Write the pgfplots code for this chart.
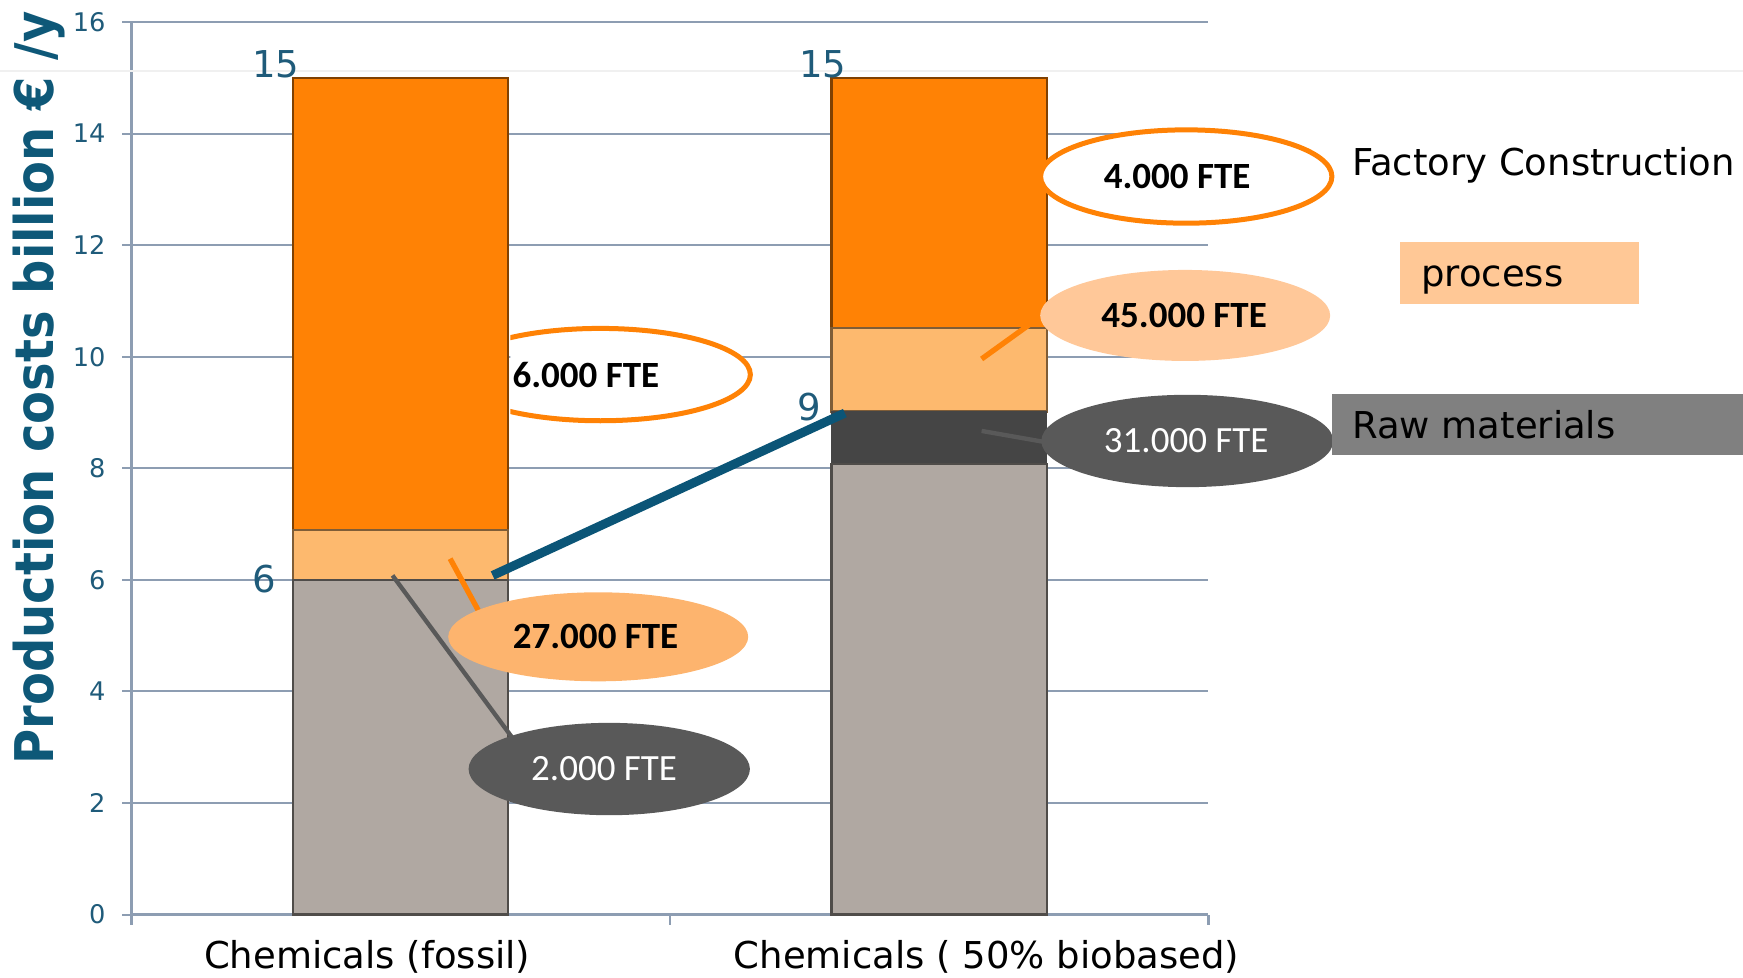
\documentclass[border=0pt]{standalone}
\usepackage{fontspec}
\setmainfont{DejaVu Sans}
\newfontfamily\calibri{Carlito}
\newfontfamily\ylabfont{DejaVu Sans}[BoldFeatures={FakeStretch=0.90}]
\usepackage{pgfplots}
\pgfplotsset{compat=1.18}
\definecolor{gridc}{HTML}{8D9DB2}
\definecolor{tealc}{HTML}{1F5B7A}
\definecolor{ylabc}{HTML}{0E5878}
\definecolor{bluec}{HTML}{0B5577}
\definecolor{rawc}{HTML}{B0A8A2}
\definecolor{darkc}{HTML}{454545}
\definecolor{procc}{HTML}{FDB96E}
\definecolor{constc}{HTML}{FF8205}
\definecolor{ell27}{HTML}{FDB46E}
\definecolor{ell45}{HTML}{FFC899}
\definecolor{ellgray}{HTML}{595959}
\definecolor{processbox}{HTML}{FFC896}
\definecolor{rawbox}{HTML}{808080}
\begin{document}
\begin{tikzpicture}
\begin{axis}[
  at={(0,0)}, anchor=south west, scale only axis,
  width=323.1pt, height=267.8pt,
  xmin=-0.5, xmax=1.5, ymin=0, ymax=16,
  ybar stacked, bar width=0.4,
  clip=false,
  axis x line*=bottom, axis y line*=left,
  x axis line style={-}, y axis line style={-},
  axis line style={gridc, line width=0.8pt},
  ymajorgrids, grid style={gridc, line width=0.6pt},
  ytick={0,2,...,16},
  xtick={-0.062,1.088},
  xticklabels={Chemicals (fossil), Chemicals ( 50\% biobased)},
  major x tick style={draw=none},
  minor xtick={-0.5,0.5,1.5},
  minor x tick style={gridc, line width=0.8pt},
  ytick style={gridc, line width=0.6pt},
  tick align=outside,
  major tick length=2.7pt, minor tick length=3pt,
  /pgf/number format/assume math mode=true,
  yticklabel style={font=\fontsize{7.7}{9}\selectfont, text=tealc, xshift=-1.5pt},
  xticklabel style={font=\fontsize{11.1}{13}\selectfont, text=black, anchor=base, yshift=-13.4pt},
  ylabel={Production costs billion € /y},
  ylabel style={at={(axis description cs:-0.086,0.590)}, anchor=center, rotate=0, inner sep=0pt,
    font=\ylabfont\bfseries\fontsize{16}{18}\selectfont, text=ylabc},
]
\addplot[fill=rawc, draw=rawc!45!black, line width=0.7pt] coordinates {(0,6) (1,8.08)};
\addplot[fill=darkc, draw=none] coordinates {(0,0) (1,0.94)};
\addplot[fill=procc, draw=procc!50!black, line width=0.7pt] coordinates {(0,0.9) (1,1.49)};
\addplot[fill=constc, draw=constc!50!black, line width=0.7pt] coordinates {(0,8.1) (1,4.49)};

% anchor points for the annotations (data coordinates)
\coordinate (e6) at (axis cs:0.371,9.68);
\coordinate (t6) at (axis cs:0.344,9.68);
\coordinate (clipA) at (axis cs:0.204,8.5);
\coordinate (clipB) at (axis cs:0.9,11);
\coordinate (e27) at (axis cs:0.367,4.98);
\coordinate (t27) at (axis cs:0.362,4.98);
\coordinate (e2) at (axis cs:0.3875,2.61);
\coordinate (t2) at (axis cs:0.378,2.61);
\coordinate (e4) at (axis cs:1.459,13.23);
\coordinate (t4) at (axis cs:1.442,13.23);
\coordinate (e45) at (axis cs:1.457,10.74);
\coordinate (t45) at (axis cs:1.455,10.74);
\coordinate (e31) at (axis cs:1.461,8.49);
\coordinate (t31) at (axis cs:1.459,8.49);
\coordinate (bl1) at (axis cs:0.171,6.08);
\coordinate (bl2) at (axis cs:0.825,8.99);
\coordinate (co1) at (axis cs:0.092,6.38);
\coordinate (co2) at (axis cs:0.171,4.98);
\coordinate (cg1) at (axis cs:-0.015,6.08);
\coordinate (cg2) at (axis cs:0.206,3.19);
\coordinate (co3) at (axis cs:1.079,9.96);
\coordinate (co4) at (axis cs:1.197,10.78);
\coordinate (cg3) at (axis cs:1.079,8.67);
\coordinate (cg4) at (axis cs:1.197,8.47);
\coordinate (l15a) at (axis cs:-0.232,15.0);
\coordinate (l15b) at (axis cs:0.784,15.0);
\coordinate (l6) at (axis cs:-0.254,6.02);
\coordinate (l9) at (axis cs:0.759,9.1);
\coordinate (fc) at (axis cs:1.766,13.43);
\coordinate (pbA) at (axis cs:1.855,10.94);
\coordinate (pbB) at (axis cs:2.299,12.05);
\coordinate (pt) at (axis cs:1.894,11.38);
\coordinate (rbA) at (axis cs:1.729,8.23);
\coordinate (rbB) at (axis cs:2.493,9.34);
\coordinate (rt) at (axis cs:1.766,8.79);
\coordinate (slA) at (axis cs:-0.7435,15.12);
\coordinate (slB) at (axis cs:2.493,15.12);
\end{axis}

% faint slide line
\draw[black!6, line width=0.4pt] (slA) -- (slB);
% 6.000 ellipse sits behind the fossil bar: show only the part right of the bar
\begin{scope}
\clip (clipA) rectangle (clipB);
\draw[constc, line width=1.5pt, fill=white] (e6) ellipse [x radius=45pt, y radius=13.85pt];
\end{scope}
% blue connecting line
\draw[bluec, line width=2.7pt] (bl1) -- (bl2);
% connectors
\draw[constc, line width=1.6pt] (co1) -- (co2);
\draw[ellgray, line width=1.3pt] (cg1) -- (cg2);
\draw[constc, line width=1.6pt] (co3) -- (co4);
\draw[ellgray, line width=1.3pt] (cg3) -- (cg4);
% ellipses
\fill[ell27] (e27) ellipse [x radius=45pt, y radius=13.35pt];
\fill[ellgray] (e2) ellipse [x radius=42.2pt, y radius=13.85pt];
\draw[constc, line width=1.5pt, fill=white] (e4) ellipse [x radius=43.7pt, y radius=14pt];
\fill[ell45] (e45) ellipse [x radius=43.5pt, y radius=13.65pt];
\fill[ellgray] (e31) ellipse [x radius=43.8pt, y radius=13.85pt];
% boxes
\fill[processbox] (pbA) rectangle (pbB);
\fill[rawbox] (rbA) rectangle (rbB);
% texts
\node[text=tealc, font=\fontsize{11.1}{13}\selectfont, anchor=base] at (l15a) {15};
\node[text=tealc, font=\fontsize{11.1}{13}\selectfont, anchor=base] at (l15b) {15};
\node[text=tealc, font=\fontsize{11.1}{13}\selectfont] at (l6) {6};
\node[text=tealc, font=\fontsize{11.1}{13}\selectfont] at (l9) {9};
\node[font=\calibri\bfseries\fontsize{11.1}{13}\selectfont] at (t6) {6.000 FTE};
\node[font=\calibri\bfseries\fontsize{11.1}{13}\selectfont] at (t27) {27.000 FTE};
\node[text=white, font=\calibri\fontsize{11.1}{13}\selectfont] at (t2) {2.000 FTE};
\node[font=\calibri\bfseries\fontsize{11.1}{13}\selectfont] at (t4) {4.000 FTE};
\node[font=\calibri\bfseries\fontsize{11.1}{13}\selectfont] at (t45) {45.000 FTE};
\node[text=white, font=\calibri\fontsize{11.1}{13}\selectfont] at (t31) {31.000 FTE};
\node[anchor=west, inner sep=0pt, font=\fontsize{11.1}{13}\selectfont] at (fc) {Factory Construction};
\node[anchor=west, inner sep=0pt, font=\fontsize{11.1}{13}\selectfont] at (pt) {process};
\node[anchor=west, inner sep=0pt, font=\fontsize{11.1}{13}\selectfont] at (rt) {Raw materials};

\pgfresetboundingbox
\useasboundingbox (-39.4pt,-18.96pt) rectangle (483.5pt,274.4pt);
\end{tikzpicture}
\end{document}
